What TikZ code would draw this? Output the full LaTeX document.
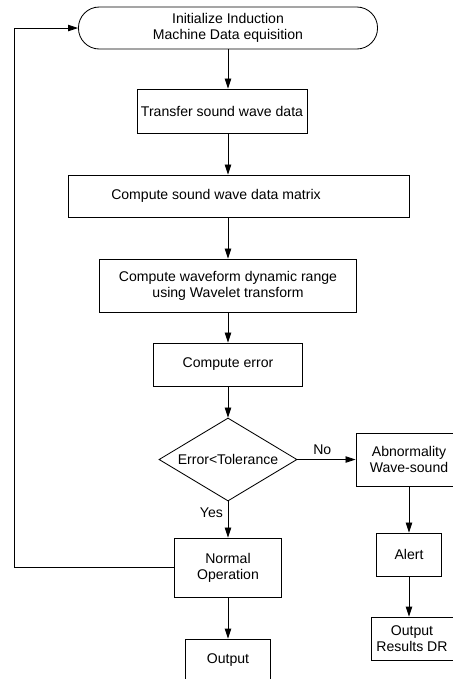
\documentclass[tikz,border=0pt]{standalone}
\usepackage{fontspec}
\setmainfont{Liberation Sans}
\usetikzlibrary{arrows.meta,shapes.geometric}

\begin{document}
\begin{tikzpicture}[x=0.025cm,y=-0.025cm,
    font=\fontsize{10}{11.5}\selectfont,
    line width=0.6pt,
    box/.style={draw, align=center, inner sep=2pt},
    arr/.style={-{Triangle[length=2.5mm,width=1.6mm]}}]
  \useasboundingbox (0,0) rectangle (453,679);
  % main column
  \node[box, rounded corners=0.52cm, minimum width=7.475cm, minimum height=1.05cm] (start) at (228,28) {Initialize Induction\\Machine Data equisition};
  \node[box, minimum width=4.25cm, minimum height=1.1cm] (trans) at (222,111) {Transfer sound wave data};
  \node[box, minimum width=8.525cm, minimum height=1.05cm] (mat) at (238.5,196) {\hspace*{-1.125cm}Compute sound wave data matrix};
  \node[box, minimum width=6.425cm, minimum height=1.325cm] (wave) at (228,285.5) {Compute waveform dynamic range\\using Wavelet transform};
  \node[box, minimum width=3.725cm, minimum height=1.075cm] (err) at (228,364.5) {Compute error};
  \node[draw, diamond, aspect=1.66, inner sep=0pt, minimum width=3.45cm, minimum height=2.075cm] (dec) at (228,459.5) {Error<Tolerance};
  \node[box, minimum width=2.675cm, minimum height=1.475cm] (normal) at (228,567.5) {Normal\\Operation};
  \node[box, minimum width=2.125cm, minimum height=1.075cm] (out) at (228,660.5) {Output};
  % right branch
  \node[box, minimum width=2.65cm, minimum height=1.325cm] (abn) at (409,459.5) {Abnormality\\Wave-sound};
  \node[box, minimum width=1.625cm, minimum height=1.075cm] (alert) at (409,554.5) {Alert};
  \node[box, minimum width=2.05cm, minimum height=1.075cm] (res) at (412,638.5) {Output\\Results DR};
  \coordinate (loop) at (14,566);

  \draw[arr] (start.south) -- (start.south |- trans.north);
  \draw[arr] (trans.south -| start) -- (mat.north -| start);
  \draw[arr] (mat.south -| start) -- (wave.north);
  \draw[arr] (wave) -- (err);
  \draw[arr] (err) -- (dec);
  \draw[arr] (dec) -- (normal) node[pos=0.3,left] {Yes};
  \draw[arr] (normal) -- (out);
  \draw[arr] (dec) -- (abn) node[midway,above,xshift=-3pt] {No};
  \draw[arr] (abn) -- (alert);
  \draw[arr] (alert.south) -- (alert.south |- res.north);
  \draw[arr] (normal.west) -- (normal.west -| loop) |- (start.west);
\end{tikzpicture}
\end{document}
